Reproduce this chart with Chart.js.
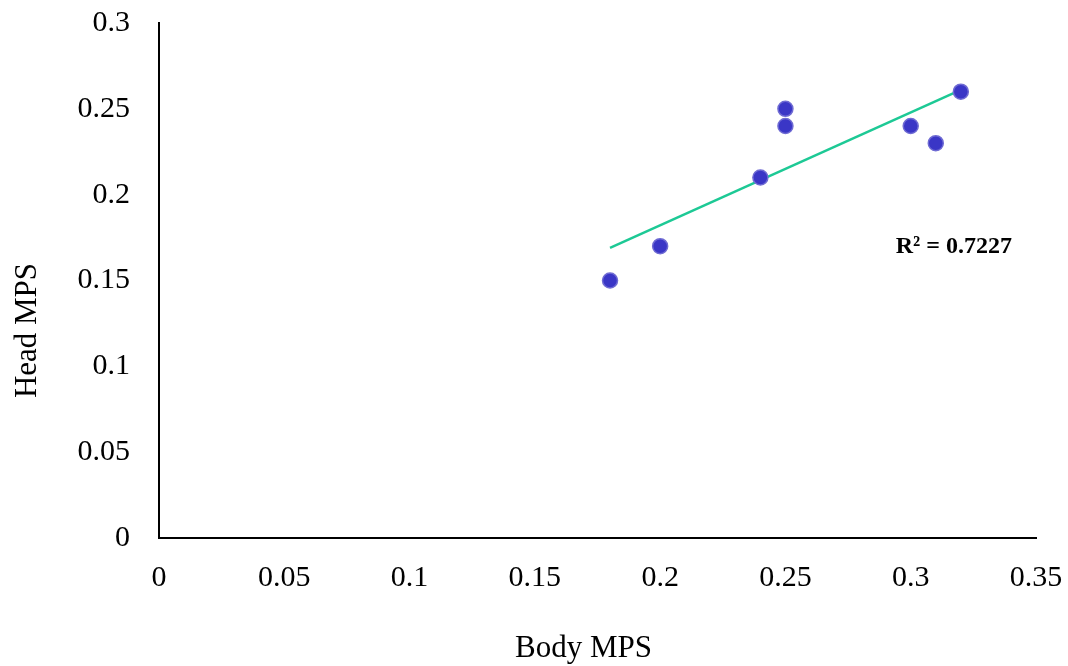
<!DOCTYPE html>
<html>
<head>
<meta charset="utf-8">
<script src="https://cdn.jsdelivr.net/npm/chart.js@4.4.0/dist/chart.umd.min.js"></script>
<style>
  html, body { margin: 0; padding: 0; background: #fff; }
  #mpsChart { display: block; }
</style>
</head>
<body>
<canvas id="mpsChart" width="1068" height="666"></canvas>
<script>
// readings
const bodyMps = [0.18, 0.20, 0.24, 0.25, 0.25, 0.30, 0.31, 0.32];
const headMps = [0.15, 0.17, 0.21, 0.25, 0.24, 0.24, 0.23, 0.26];
const trendX = [0.18, 0.32];
const trendY = [0.169, 0.261];
const xTicks = [0, 0.05, 0.1, 0.15, 0.2, 0.25, 0.3, 0.35];
const yTicks = [0, 0.05, 0.1, 0.15, 0.2, 0.25, 0.3];
const xTitle = 'Body MPS';
const yTitle = 'Head MPS';
const rSquared = 'R² = 0.7227';

const serif = '"Liberation Serif", "Times New Roman", serif';

// axis titles sit off-centre in the original (Excel layout), so draw them by hand
const axisTitles = {
  id: 'axisTitles',
  afterDraw(chart) {
    const { ctx, chartArea } = chart;
    ctx.save();
    ctx.font = '31px ' + serif;
    ctx.fillStyle = '#000';
    ctx.textAlign = 'center';
    ctx.textBaseline = 'alphabetic';
    ctx.fillText(xTitle, (chartArea.left + chartArea.right) / 2 - 14, chart.height - 9);
    ctx.translate(36, (chartArea.top + chartArea.bottom) / 2 + 50);
    ctx.rotate(-Math.PI / 2);
    ctx.fillText(yTitle, 0, 0);
    ctx.restore();
  }
};

// Excel-style R² text next to the trendline
const r2Label = {
  id: 'r2Label',
  afterDatasetsDraw(chart) {
    const { ctx, scales } = chart;
    ctx.save();
    ctx.font = 'bold 24px ' + serif;
    ctx.fillStyle = '#000';
    ctx.textAlign = 'center';
    ctx.textBaseline = 'middle';
    ctx.fillText(rSquared, scales.x.getPixelForValue(0.3172), scales.y.getPixelForValue(0.1695));
    ctx.restore();
  }
};

document.addEventListener('DOMContentLoaded', function() {
  const ctx = document.getElementById('mpsChart').getContext('2d');
  new Chart(ctx, {
    type: 'scatter',
    data: {
      datasets: [{
        label: 'Head vs Body MPS',
        data: bodyMps.map((x, i) => ({ x: x, y: headMps[i] })),
        backgroundColor: '#3a36c6',
        borderColor: '#6f6bd3',
        borderWidth: 1.5,
        pointRadius: 7.5,
        order: 1
      }, {
        label: 'Trend',
        type: 'line',
        data: trendX.map((x, i) => ({ x: x, y: trendY[i] })),
        borderColor: '#1dc995',
        borderWidth: 2.5,
        pointRadius: 0,
        fill: false,
        order: 2
      }]
    },
    options: {
      responsive: false,
      animation: false,
      layout: { padding: { top: 23, right: 32, left: 0, bottom: 0 } },
      plugins: {
        legend: { display: false },
        tooltip: { enabled: false }
      },
      scales: {
        x: {
          type: 'linear',
          min: 0,
          max: 0.35,
          afterBuildTicks: axis => { axis.ticks = xTicks.map(v => ({ value: v })); },
          afterFit: axis => { axis.height = 128; },
          grid: { display: false, drawTicks: true, tickLength: 22, tickColor: 'rgba(0,0,0,0)' },
          border: { display: true, color: '#000', width: 2 },
          ticks: {
            color: '#000',
            padding: 0,
            font: { family: serif, size: 30 },
            callback: v => String(v)
          },
          title: { display: false }
        },
        y: {
          type: 'linear',
          min: 0,
          max: 0.3,
          afterBuildTicks: axis => { axis.ticks = yTicks.map(v => ({ value: v })); },
          afterFit: axis => { axis.width = 159; },
          grid: { display: false, drawTicks: true, tickLength: 29, tickColor: 'rgba(0,0,0,0)' },
          border: { display: true, color: '#000', width: 2 },
          ticks: {
            color: '#000',
            padding: 0,
            font: { family: serif, size: 30 },
            callback: v => String(v)
          },
          title: { display: false }
        }
      }
    },
    plugins: [r2Label, axisTitles]
  });
});
</script>
</body>
</html>
